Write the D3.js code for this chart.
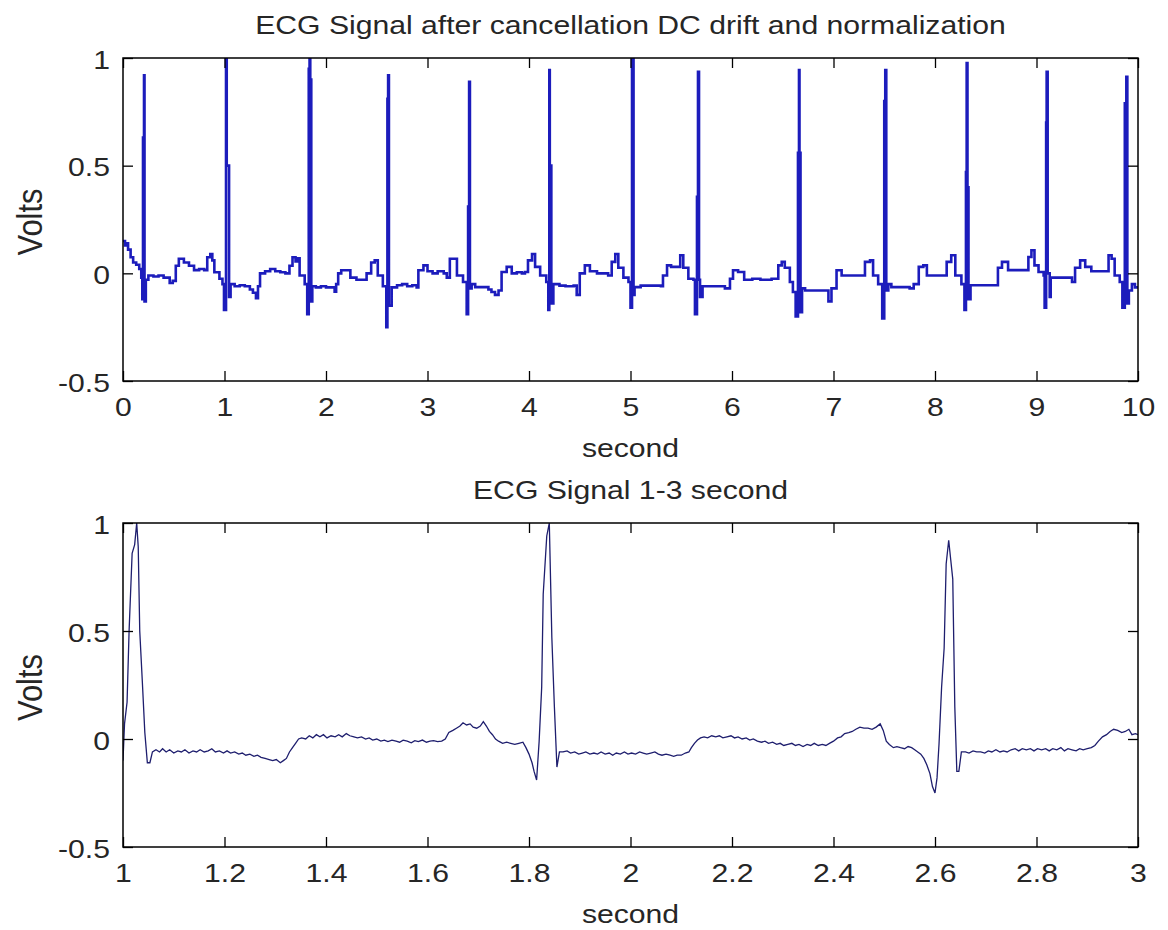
<!DOCTYPE html>
<html><head><meta charset="utf-8">
<script src="https://cdn.jsdelivr.net/npm/d3@7"></script>
<style>body{margin:0;background:#fff}</style>
</head><body>
<svg id="chart" width="1168" height="930"></svg>
<script>
// ---------- data ----------
const titles = ["ECG Signal after cancellation DC drift and normalization", "ECG Signal 1-3 second"];
const xLabel = "second";
const yLabel = "Volts";

const topXTicks = [0, 1, 2, 3, 4, 5, 6, 7, 8, 9, 10];
const topXTickLabels = ["0", "1", "2", "3", "4", "5", "6", "7", "8", "9", "10"];
const zoomXTicks = [1, 1.2, 1.4, 1.6, 1.8, 2, 2.2, 2.4, 2.6, 2.8, 3];
const zoomXTickLabels = ["1", "1.2", "1.4", "1.6", "1.8", "2", "2.2", "2.4", "2.6", "2.8", "3"];
const yTicks = [-0.5, 0, 0.5, 1];
const yTickLabels = ["-0.5", "0", "0.5", "1"];

// [second, volts]
const topSamples = [
  [0.00,0.15],[0.02,0.13],[0.035,0.14],[0.05,0.11],[0.075,0.075],[0.10,0.05],[0.13,0.04],[0.16,0.02],[0.18,-0.02],
  [0.19,-0.12],[0.197,0.63],[0.207,0.92],[0.212,-0.13],[0.225,-0.03],
  [0.25,-0.01],[0.30,-0.015],[0.35,-0.01],[0.40,-0.02],[0.44,-0.02],[0.46,-0.045],[0.49,-0.035],[0.52,0.035],[0.55,0.068],
  [0.60,0.05],[0.65,0.035],[0.70,0.015],[0.75,0.02],[0.80,0.015],[0.83,0.075],[0.86,0.09],[0.88,0.06],[0.90,0.005],[0.95,-0.025],[0.98,-0.05],
  [0.995,-0.17],[1.015,1.0],[1.022,0.5],[1.045,-0.11],[1.06,-0.05],
  [1.10,-0.06],[1.15,-0.055],[1.20,-0.06],[1.25,-0.075],[1.28,-0.09],[1.31,-0.115],[1.33,-0.06],[1.35,0.0],[1.40,0.01],[1.45,0.02],
  [1.50,0.01],[1.55,0.005],[1.60,0.0],[1.64,0.035],[1.67,0.075],[1.70,0.055],[1.72,0.07],[1.74,-0.01],[1.79,-0.05],
  [1.815,-0.19],[1.83,0.95],[1.838,1.0],[1.845,0.9],[1.855,-0.13],[1.865,-0.06],
  [1.90,-0.065],[1.95,-0.06],[2.00,-0.065],[2.05,-0.065],[2.085,-0.085],[2.10,-0.05],[2.12,0.0],[2.15,0.014],[2.20,0.014],[2.24,-0.02],
  [2.30,-0.03],[2.37,-0.03],[2.40,0.0],[2.445,0.05],[2.48,0.06],[2.51,-0.01],[2.56,-0.06],
  [2.594,-0.25],[2.605,0.81],[2.612,0.92],[2.62,-0.15],[2.647,-0.065],
  [2.70,-0.055],[2.75,-0.05],[2.80,-0.06],[2.85,-0.055],[2.893,-0.065],[2.91,0.014],[2.96,0.037],[3.00,0.01],[3.05,0.0],[3.10,0.01],
  [3.16,0.0],[3.19,-0.02],[3.22,0.068],[3.25,0.068],[3.29,-0.01],[3.35,-0.04],
  [3.386,-0.19],[3.40,0.31],[3.41,0.89],[3.418,-0.07],[3.435,-0.05],
  [3.47,-0.064],[3.55,-0.064],[3.60,-0.075],[3.63,-0.087],[3.665,-0.10],[3.70,-0.08],[3.73,0.006],[3.78,0.03],[3.83,0.0],[3.88,0.005],
  [3.93,0.0],[3.96,0.006],[3.99,0.06],[4.03,0.09],[4.06,0.03],[4.11,-0.01],[4.17,-0.04],
  [4.19,-0.17],[4.20,0.944],[4.205,0.5],[4.22,-0.14],[4.24,-0.05],
  [4.30,-0.057],[4.36,-0.06],[4.44,-0.057],[4.47,-0.10],[4.50,0.0],[4.55,0.037],[4.60,0.01],[4.67,0.0],[4.73,0.0],[4.78,-0.01],
  [4.815,0.053],[4.85,0.09],[4.88,0.026],[4.93,-0.02],[4.98,-0.04],
  [5.00,-0.16],[5.015,0.99],[5.022,1.0],[5.03,-0.1],[5.04,-0.064],
  [5.10,-0.057],[5.20,-0.057],[5.30,-0.06],[5.32,-0.01],[5.36,0.037],[5.40,0.03],[5.45,0.03],[5.49,0.084],[5.52,0.026],[5.57,-0.025],[5.62,-0.03],
  [5.635,-0.19],[5.655,0.355],[5.665,0.936],[5.675,-0.03],[5.685,-0.11],[5.71,-0.06],
  [5.80,-0.06],[5.89,-0.06],[5.93,-0.07],[5.98,-0.025],[6.01,0.014],[6.06,0.006],[6.12,-0.03],[6.20,-0.025],[6.28,-0.03],[6.35,-0.03],
  [6.39,-0.025],[6.456,0.037],[6.49,0.053],[6.52,0.026],[6.57,-0.04],[6.60,-0.087],
  [6.627,-0.20],[6.65,0.56],[6.66,0.944],[6.665,0.56],[6.675,-0.18],[6.69,-0.07],
  [6.72,-0.08],[6.80,-0.08],[6.91,-0.08],[6.95,-0.13],[6.98,-0.07],[7.03,0.014],[7.08,-0.01],[7.15,-0.01],[7.25,-0.01],[7.31,0.053],
  [7.36,0.06],[7.39,-0.01],[7.44,-0.05],
  [7.48,-0.21],[7.50,0.80],[7.51,0.944],[7.52,-0.08],[7.54,-0.05],
  [7.57,-0.064],[7.65,-0.064],[7.75,-0.07],[7.79,-0.05],[7.84,0.03],[7.885,0.037],[7.92,-0.01],[8.00,-0.01],[8.05,-0.01],[8.115,0.053],
  [8.16,0.084],[8.20,-0.01],[8.26,-0.05],
  [8.29,-0.17],[8.305,0.47],[8.312,0.976],[8.32,0.4],[8.33,-0.12],[8.35,-0.055],
  [8.45,-0.055],[8.55,-0.055],[8.59,-0.055],[8.62,0.026],[8.66,0.053],[8.72,0.015],[8.80,0.015],[8.88,0.015],[8.92,0.076],[8.95,0.107],
  [8.98,0.037],[9.02,0.006],[9.07,-0.01],
  [9.08,-0.16],[9.095,0.70],[9.10,0.936],[9.11,0.0],[9.13,-0.11],[9.14,-0.02],
  [9.22,-0.02],[9.30,-0.02],[9.35,-0.04],[9.38,0.026],[9.43,0.06],[9.48,0.03],[9.54,0.01],[9.60,0.01],[9.67,0.01],[9.71,0.084],
  [9.74,0.068],[9.77,-0.01],[9.82,-0.04],
  [9.846,-0.16],[9.87,0.79],[9.885,0.913],[9.895,-0.14],[9.91,-0.08],
  [9.94,-0.05],[9.97,-0.065],[10.0,-0.06]
];

// [second, volts]
const zoomSamples = [
  [1.000,-0.10],[1.003,0.07],[1.008,0.17],[1.012,0.50],[1.018,0.86],[1.023,0.90],[1.027,1.00],[1.030,0.89],[1.033,0.50],[1.038,0.27],
  [1.043,0.03],[1.048,-0.11],[1.053,-0.11],[1.058,-0.06],[1.065,-0.05],[1.072,-0.06],[1.078,-0.045],[1.085,-0.06],[1.092,-0.05],[1.100,-0.065],
  [1.108,-0.055],[1.115,-0.06],[1.122,-0.05],[1.130,-0.065],[1.138,-0.055],[1.145,-0.06],[1.152,-0.05],[1.160,-0.06],[1.168,-0.055],[1.175,-0.045],
  [1.182,-0.06],[1.190,-0.055],[1.198,-0.065],[1.205,-0.055],[1.212,-0.065],[1.220,-0.06],[1.228,-0.07],[1.235,-0.065],[1.242,-0.075],[1.250,-0.07],
  [1.258,-0.08],[1.265,-0.075],[1.272,-0.085],[1.280,-0.09],[1.288,-0.095],[1.295,-0.1],[1.302,-0.095],[1.310,-0.11],[1.316,-0.1],[1.322,-0.09],
  [1.328,-0.06],[1.334,-0.04],[1.340,-0.02],[1.346,0.0],[1.352,0.005],[1.360,0.0],[1.367,0.015],[1.374,0.005],[1.381,0.02],[1.388,0.01],
  [1.395,0.02],[1.402,0.005],[1.410,0.015],[1.418,0.01],[1.425,0.02],[1.432,0.01],[1.440,0.025],[1.447,0.015],[1.455,0.01],[1.462,0.005],
  [1.470,0.01],[1.478,0.0],[1.485,0.005],[1.492,-0.005],[1.500,0.0],[1.508,-0.01],[1.515,-0.005],[1.522,-0.012],[1.530,-0.005],[1.538,-0.01],
  [1.545,-0.015],[1.552,-0.005],[1.560,-0.01],[1.568,-0.018],[1.575,-0.008],[1.582,-0.012],[1.590,-0.005],[1.598,-0.015],[1.605,-0.01],[1.612,-0.008],
  [1.620,-0.012],[1.628,-0.01],[1.635,0.0],[1.642,0.03],[1.650,0.04],[1.657,0.05],[1.664,0.06],[1.670,0.075],[1.677,0.065],[1.684,0.07],
  [1.690,0.055],[1.697,0.05],[1.704,0.06],[1.710,0.08],[1.716,0.06],[1.722,0.035],[1.728,0.02],[1.734,0.0],[1.740,-0.01],[1.748,-0.02],
  [1.756,-0.015],[1.764,-0.02],[1.772,-0.025],[1.780,-0.02],[1.788,-0.015],[1.794,-0.04],[1.800,-0.07],[1.806,-0.11],[1.810,-0.15],[1.815,-0.19],
  [1.820,-0.01],[1.825,0.24],[1.828,0.67],[1.835,0.94],[1.840,1.00],[1.845,0.47],[1.850,0.15],[1.855,-0.13],[1.860,-0.06],[1.867,-0.06],
  [1.875,-0.055],[1.882,-0.065],[1.890,-0.06],[1.898,-0.07],[1.905,-0.065],[1.912,-0.06],[1.920,-0.07],[1.928,-0.065],[1.935,-0.07],[1.942,-0.06],
  [1.950,-0.07],[1.958,-0.065],[1.965,-0.075],[1.972,-0.065],[1.980,-0.07],[1.988,-0.06],[1.995,-0.07],[2.002,-0.065],[2.010,-0.07],[2.018,-0.06],
  [2.025,-0.065],[2.032,-0.07],[2.040,-0.065],[2.048,-0.06],[2.055,-0.07],[2.062,-0.075],[2.070,-0.07],[2.078,-0.075],[2.085,-0.08],[2.092,-0.075],
  [2.100,-0.075],[2.108,-0.065],[2.115,-0.06],[2.120,-0.04],[2.126,-0.02],[2.132,-0.005],[2.138,0.005],[2.145,0.01],[2.152,0.005],[2.160,0.015],
  [2.168,0.01],[2.175,0.015],[2.182,0.005],[2.190,0.01],[2.198,0.015],[2.205,0.005],[2.212,0.01],[2.220,0.0],[2.228,0.005],[2.235,-0.005],
  [2.242,0.0],[2.250,-0.01],[2.258,-0.015],[2.265,-0.01],[2.272,-0.02],[2.280,-0.015],[2.288,-0.025],[2.295,-0.02],[2.302,-0.03],[2.310,-0.025],
  [2.318,-0.02],[2.325,-0.03],[2.332,-0.025],[2.340,-0.035],[2.348,-0.025],[2.355,-0.03],[2.362,-0.02],[2.370,-0.03],[2.378,-0.025],[2.385,-0.03],
  [2.392,-0.02],[2.400,-0.01],[2.408,0.005],[2.415,0.01],[2.422,0.025],[2.430,0.03],[2.437,0.035],[2.444,0.045],[2.452,0.055],[2.460,0.05],
  [2.468,0.05],[2.476,0.045],[2.484,0.055],[2.492,0.07],[2.498,0.04],[2.504,-0.01],[2.510,-0.025],[2.518,-0.04],[2.525,-0.035],[2.532,-0.04],
  [2.540,-0.045],[2.547,-0.035],[2.554,-0.04],[2.560,-0.05],[2.566,-0.06],[2.572,-0.07],[2.578,-0.09],[2.584,-0.12],[2.590,-0.16],[2.595,-0.22],
  [2.600,-0.25],[2.604,-0.18],[2.608,-0.02],[2.613,0.24],[2.618,0.42],[2.622,0.81],[2.627,0.92],[2.631,0.83],[2.635,0.74],[2.639,0.15],
  [2.643,-0.15],[2.647,-0.15],[2.652,-0.06],[2.660,-0.06],[2.667,-0.065],[2.675,-0.055],[2.682,-0.06],[2.690,-0.06],[2.698,-0.065],[2.705,-0.055],
  [2.712,-0.06],[2.720,-0.05],[2.728,-0.06],[2.735,-0.055],[2.742,-0.06],[2.750,-0.05],[2.758,-0.045],[2.765,-0.055],[2.772,-0.045],[2.780,-0.05],
  [2.788,-0.045],[2.795,-0.055],[2.802,-0.045],[2.810,-0.05],[2.818,-0.045],[2.825,-0.055],[2.832,-0.045],[2.840,-0.05],[2.848,-0.04],[2.855,-0.055],
  [2.862,-0.045],[2.870,-0.05],[2.878,-0.055],[2.885,-0.045],[2.892,-0.05],[2.900,-0.045],[2.908,-0.04],[2.915,-0.03],[2.922,-0.01],[2.930,0.01],
  [2.938,0.02],[2.945,0.035],[2.952,0.045],[2.960,0.04],[2.968,0.03],[2.975,0.035],[2.982,0.045],[2.988,0.02],[2.995,0.025],[3.000,0.02]
];

// ---------- drawing ----------
const svg = d3.select("#chart");
svg.append("rect").attr("width", 1168).attr("height", 930).attr("fill", "#fff");

const FONT = "'Liberation Sans', Arial, sans-serif";
const FS = 26, SX = 1.16, TEXT = "#262626";

function panel(cfg) {
  const {L, R, T, B} = cfg;
  const x = d3.scaleLinear().domain(cfg.xDomain).range([L, R]);
  const y = d3.scaleLinear().domain([-0.5, 1]).range([B, T]);
  const g = svg.append("g");

  g.append("clipPath").attr("id", cfg.id).append("rect")
    .attr("x", L).attr("y", T).attr("width", R - L).attr("height", B - T);

  g.append("path").datum(cfg.data)
    .attr("clip-path", `url(#${cfg.id})`)
    .attr("fill", "none").attr("stroke", cfg.color).attr("stroke-width", cfg.width)
    .attr("stroke-linejoin", "miter").attr("stroke-miterlimit", 2)
    .attr("d", d3.line().curve(cfg.curve).x(d => x(d[0])).y(d => y(d[1])));

  const style = sel => {
    sel.attr("font-family", FONT).attr("font-size", FS);
    sel.select(".domain").remove();
    sel.selectAll(".tick line").attr("stroke", "#000").attr("stroke-width", 1.3);
  };

  const bottom = g.append("g").attr("transform", `translate(0,${B})`)
    .call(d3.axisBottom(x).tickValues(cfg.xTicks).tickSize(-10).tickSizeOuter(0)
      .tickFormat((d, i) => cfg.xLabels[i]));
  style(bottom);
  bottom.selectAll(".tick text").attr("y", 35).attr("dy", null).attr("fill", TEXT)
    .attr("transform", `scale(${SX},1)`);

  const topAx = g.append("g").attr("transform", `translate(0,${T})`)
    .call(d3.axisTop(x).tickValues(cfg.xTicks).tickSize(-10).tickSizeOuter(0).tickFormat(""));
  style(topAx);

  const left = g.append("g").attr("transform", `translate(${L},0)`)
    .call(d3.axisLeft(y).tickValues(yTicks).tickSize(-10).tickSizeOuter(0)
      .tickFormat((d, i) => yTickLabels[i]));
  style(left);
  left.selectAll(".tick text").attr("x", -13 / SX).attr("y", 10).attr("dy", null).attr("fill", TEXT)
    .attr("transform", `scale(${SX},1)`);

  const right = g.append("g").attr("transform", `translate(${R},0)`)
    .call(d3.axisRight(y).tickValues(yTicks).tickSize(-10).tickSizeOuter(0).tickFormat(""));
  style(right);

  g.append("rect").attr("x", L).attr("y", T).attr("width", R - L).attr("height", B - T)
    .attr("fill", "none").attr("stroke", "#000").attr("stroke-width", 1.5);

  const cx = (L + R) / 2, cy = (T + B) / 2;
  g.append("text").text(cfg.title)
    .attr("transform", `translate(${cx},${T - 24.5}) scale(${SX},1)`)
    .attr("text-anchor", "middle").attr("font-family", FONT).attr("font-size", FS).attr("fill", TEXT);
  g.append("text").text(xLabel)
    .attr("transform", `translate(${cx},${B + 76}) scale(${SX},1)`)
    .attr("text-anchor", "middle").attr("font-family", FONT).attr("font-size", FS).attr("fill", TEXT);
  g.append("text").text(yLabel)
    .attr("transform", `translate(42,${cy + 2.5}) scale(1.15,1) rotate(-90)`)
    .attr("text-anchor", "middle").attr("font-family", FONT).attr("font-size", 31).attr("fill", TEXT);
}

panel({id: "clipTop", L: 123, R: 1138, T: 58, B: 381, xDomain: [0, 10],
  xTicks: topXTicks, xLabels: topXTickLabels, data: topSamples,
  color: "#1c1cbc", width: 2.6, curve: d3.curveStepAfter, title: titles[0]});
panel({id: "clipZoom", L: 123, R: 1138, T: 523, B: 847, xDomain: [1, 3],
  xTicks: zoomXTicks, xLabels: zoomXTickLabels, data: zoomSamples,
  color: "#1e1e6e", width: 1.3, curve: d3.curveLinear, title: titles[1]});
</script>
</body></html>
